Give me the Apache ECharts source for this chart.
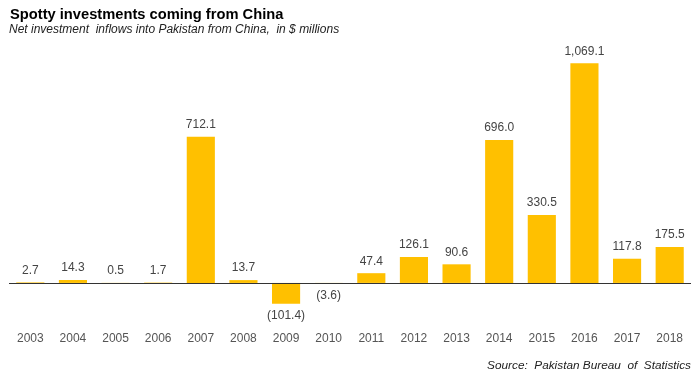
<!DOCTYPE html>
<html><head><meta charset="utf-8">
<script src="https://cdn.jsdelivr.net/npm/echarts@6/dist/echarts.min.js"></script>
<style>html,body{margin:0;padding:0;background:#fff}#c{width:700px;height:380px}</style>
</head><body><div id="c"></div>
<script>
const years = ['2003','2004','2005','2006','2007','2008','2009','2010','2011','2012','2013','2014','2015','2016','2017','2018'];
const inflows = [2.7,14.3,0.5,1.7,712.1,13.7,-101.4,-3.6,47.4,126.1,90.6,696.0,330.5,1069.1,117.8,175.5];

function fmt(v){
  const a = Math.abs(v).toLocaleString('en-US',{minimumFractionDigits:1,maximumFractionDigits:1});
  return v < 0 ? '(' + a + ')' : a;
}
const FF = 'Liberation Sans, Arial, sans-serif';
const chart = echarts.init(document.getElementById('c'), null, {renderer:'canvas'});
chart.setOption({
  animation:false,
  backgroundColor:'#fff',
  textStyle:{fontFamily:FF},
  title:[
    {text:'Spotty investments coming from China', left:5, top:2,
     textStyle:{fontSize:14.7, fontWeight:'bold', color:'#000', fontFamily:FF}},
    {text:'Net investment  inflows into Pakistan from China,  in $ millions', left:4, top:19,
     textStyle:{fontSize:12, fontStyle:'italic', fontWeight:'normal', color:'#222', fontFamily:FF}},
    {text:'Source:  Pakistan Bureau  of  Statistics', right:4, top:355,
     textStyle:{fontSize:11.8, fontStyle:'italic', fontWeight:'normal', color:'#222', fontFamily:FF}}
  ],
  grid:{left:9, right:9, top:57, bottom:56, containLabel:false},
  xAxis:{type:'category', data:years,
    axisLine:{show:false}, axisTick:{show:false},
    axisLabel:{color:'#555', fontSize:12, margin:9}},
  yAxis:{type:'value', min:-200, max:1100, show:false, splitLine:{show:false}},
  series:[{
    type:'bar',
    data: inflows.map(v => v < 0 ? {value:v, label:{position:'bottom'}} : v),
    barWidth:'66%',
    itemStyle:{color:'#FFC000'},
    label:{show:true, position:'top', color:'#444', fontSize:12, distance:6,
      formatter:p=>fmt(p.value)},
    markLine:{silent:true, symbol:'none', label:{show:false},
      lineStyle:{color:'#333', width:1, type:'solid'},
      data:[{yAxis:0}]}
  }]
});
</script></body></html>
